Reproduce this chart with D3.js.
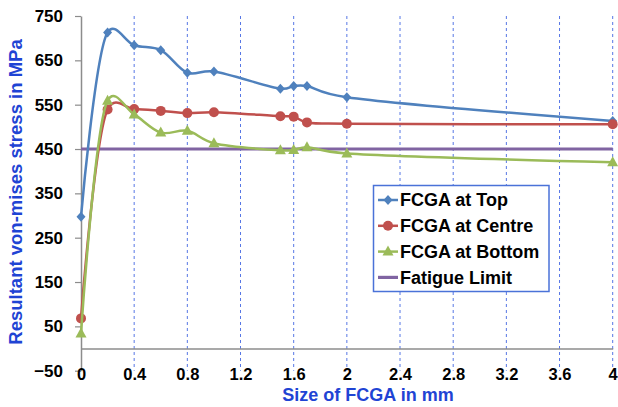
<!DOCTYPE html>
<html>
<head>
<meta charset="utf-8">
<script src="https://cdn.jsdelivr.net/npm/d3@7"></script>
<style>
  html, body { margin: 0; padding: 0; background: #ffffff; }
  svg { display: block; font-family: "Liberation Sans", Arial, sans-serif; }
</style>
</head>
<body>
<svg id="chart" width="618" height="407"></svg>
<script>
// ---- data ----
const sizes = [0, 0.2, 0.4, 0.6, 0.8, 1.0, 1.5, 1.6, 1.7, 2.0, 4.0];
const topValues    = [297, 713, 684, 673, 622, 625, 586, 592, 592, 567, 513];
const centreValues = [68, 539, 540, 536, 531, 533, 524, 523, 510, 507, 506];
const bottomValues = [34, 559, 528, 487, 491, 463, 447, 448, 454, 440, 420];
const fatigueLimit = 450;
const xTicks = [0, 0.4, 0.8, 1.2, 1.6, 2, 2.4, 2.8, 3.2, 3.6, 4];
const yTicks = [-50, 50, 150, 250, 350, 450, 550, 650, 750];
const seriesNames = ["FCGA at Top", "FCGA at Centre", "FCGA at Bottom", "Fatigue Limit"];
const xTitle = "Size of FCGA in mm";
const yTitle = "Resultant von-mises stress in MPa";

// ---- layout ----
const W = 618, H = 407;
const plot = { left: 81, right: 612.7, top: 16, bottom: 370.7 };
const colors = { top: "#4f81bd", centre: "#c0504d", bottom: "#9bbb59", fatigue: "#8064a2" };
const titleColor = "#1f44d4";

const svg = d3.select("#chart");
const x = d3.scaleLinear().domain([0, 4]).range([plot.left, plot.right]);
const y = d3.scaleLinear().domain([-50, 750]).range([plot.bottom, plot.top]);

// gridlines
svg.append("g").selectAll("line")
  .data(xTicks.filter(d => d > 0))
  .join("line")
  .attr("x1", d => x(d)).attr("x2", d => x(d))
  .attr("y1", y(750)).attr("y2", y(-50))
  .attr("stroke", "#3a5fe0").attr("stroke-opacity", 0.85)
  .attr("stroke-width", 1).attr("stroke-dasharray", "3,3");

// y axis
const yAxis = svg.append("g")
  .attr("transform", `translate(${plot.left},0)`)
  .call(d3.axisLeft(y).tickValues(yTicks).tickSize(6).tickSizeOuter(0).tickPadding(12));
yAxis.select(".domain").attr("stroke", "#8c8c8c").attr("stroke-width", 1.5);
yAxis.selectAll(".tick line").attr("stroke", "#8c8c8c").attr("stroke-width", 1.2);
yAxis.selectAll(".tick text").attr("font-size", 17).attr("font-weight", "bold").attr("fill", "#000");

// x axis at y = 0
const xAxis = svg.append("g")
  .attr("transform", `translate(0,${y(0)})`)
  .call(d3.axisBottom(x).tickValues(xTicks).tickSize(0).tickSizeOuter(0).tickPadding(20)
    .tickFormat(d => String(+d.toFixed(1))));
xAxis.select(".domain").attr("stroke", "#8c8c8c").attr("stroke-width", 1.5);
xAxis.selectAll(".tick text").attr("font-size", 16.5).attr("font-weight", "bold").attr("fill", "#000");

// fatigue limit
svg.append("line")
  .attr("x1", x(0)).attr("x2", x(4))
  .attr("y1", y(fatigueLimit)).attr("y2", y(fatigueLimit))
  .attr("stroke", colors.fatigue).attr("stroke-width", 3.2);

const line = d3.line().x(d => x(d[0])).y(d => y(d[1])).curve(d3.curveCatmullRom.alpha(0.25));

function marker(g, type, cx, cy, color) {
  if (type === "diamond") {
    g.append("path").attr("d", `M${cx},${cy-5}L${cx+4.5},${cy}L${cx},${cy+5}L${cx-4.5},${cy}Z`).attr("fill", color);
  } else if (type === "circle") {
    g.append("circle").attr("cx", cx).attr("cy", cy).attr("r", 5).attr("fill", color);
  } else if (type === "triangle") {
    g.append("path").attr("d", `M${cx},${cy-6}L${cx+5.5},${cy+4}L${cx-5.5},${cy+4}Z`).attr("fill", color);
  }
}

const series = [
  { vals: topValues, color: colors.top, type: "diamond" },
  { vals: centreValues, color: colors.centre, type: "circle" },
  { vals: bottomValues, color: colors.bottom, type: "triangle" }
];
series.forEach(s => {
  const pts = sizes.map((d, i) => [d, s.vals[i]]);
  const g = svg.append("g");
  g.append("path").attr("d", line(pts)).attr("fill", "none")
    .attr("stroke", s.color).attr("stroke-width", 2.5);
  pts.forEach(p => marker(g, s.type, x(p[0]), y(p[1]), s.color));
});

// axis titles
svg.append("text").attr("x", 368).attr("y", 400.5)
  .attr("text-anchor", "middle").attr("font-size", 18).attr("font-weight", "bold")
  .attr("fill", titleColor).text(xTitle);
svg.append("text").attr("transform", "translate(22,192) rotate(-90)")
  .attr("text-anchor", "middle").attr("font-size", 18.5).attr("font-weight", "bold")
  .attr("fill", titleColor).text(yTitle);

// legend
const lg = svg.append("g");
lg.append("rect").attr("x", 373.5).attr("y", 185.5).attr("width", 175.5).attr("height", 106)
  .attr("fill", "#fff").attr("stroke", "#4a72d8").attr("stroke-width", 1.5);
const legendTypes = ["diamond", "circle", "triangle", "line"];
const legendColors = [colors.top, colors.centre, colors.bottom, colors.fatigue];
seriesNames.forEach((name, i) => {
  const cy = 200 + i * 25.8;
  lg.append("line").attr("x1", 378).attr("x2", 398).attr("y1", cy).attr("y2", cy)
    .attr("stroke", legendColors[i]).attr("stroke-width", i === 3 ? 3.2 : 2.5);
  if (legendTypes[i] !== "line") marker(lg, legendTypes[i], 388, cy, legendColors[i]);
  lg.append("text").attr("x", 400).attr("y", cy).attr("dy", "0.36em")
    .attr("font-size", 18).attr("font-weight", "bold").attr("fill", "#000").text(name);
});
</script>
</body>
</html>
